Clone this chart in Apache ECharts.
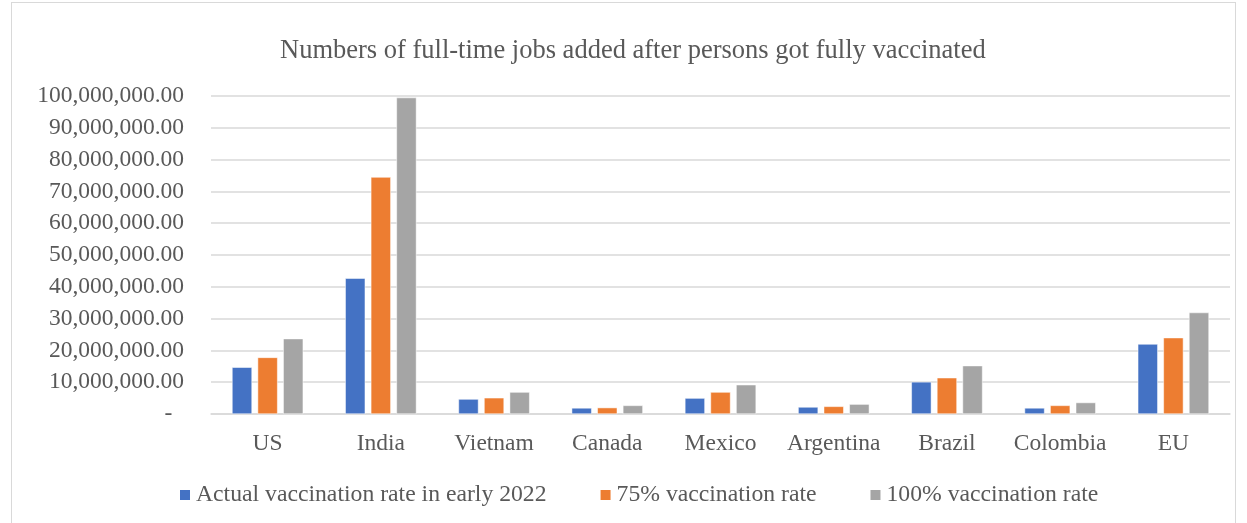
<!DOCTYPE html>
<html>
<head>
<meta charset="utf-8">
<script src="https://cdn.jsdelivr.net/npm/echarts@6/dist/echarts.min.js"></script>
<style>
  html, body { margin: 0; padding: 0; background: #fff; }
  #frame {
    position: absolute; left: 11px; top: 2px; width: 1225px; height: 530px;
    border: 1px solid #d9d9d9; box-sizing: border-box;
  }
  #chart { position: absolute; left: 0; top: 0; width: 1247px; height: 523px; }
</style>
</head>
<body>
<div id="frame"></div>
<div id="chart"></div>
<script>
  // countries on the x axis
  const countries = ['US', 'India', 'Vietnam', 'Canada', 'Mexico', 'Argentina', 'Brazil', 'Colombia', 'EU'];
  const seriesNames = ['Actual vaccination rate in early 2022', '75% vaccination rate', '100% vaccination rate'];
  // full-time jobs added
  const actualRate = [14700000, 42700000, 4700000, 1900000, 5000000, 2200000, 10100000, 1900000, 22000000];
  const rate75 = [17800000, 74500000, 5100000, 2000000, 6900000, 2400000, 11400000, 2700000, 24000000];
  const rate100 = [23700000, 99500000, 6900000, 2700000, 9200000, 3100000, 15200000, 3600000, 31900000];
  const yTicks = [0, 10000000, 20000000, 30000000, 40000000, 50000000, 60000000, 70000000, 80000000, 90000000, 100000000];

  const colors = ['#4472C4', '#ED7D31', '#A5A5A5'];
  const font = '"Liberation Serif", "Times New Roman", serif';
  const txt = '#595959';

  function fmt(v) {
    if (v === 0) return '-  ';
    return v.toLocaleString('en-US', { minimumFractionDigits: 2, maximumFractionDigits: 2 });
  }

  const chart = echarts.init(document.getElementById('chart'));
  const dataSets = [actualRate, rate75, rate100];
  chart.setOption({
    animation: false,
    color: colors,
    title: {
      text: 'Numbers of full-time jobs added after persons got fully vaccinated',
      left: 275,
      top: 33,
      textStyle: { fontFamily: font, fontSize: 26.5, fontWeight: 'normal', color: txt }
    },
    legend: {
      data: seriesNames,
      bottom: 11,
      left: 173,
      itemWidth: 12,
      itemHeight: 12,
      itemGap: 52,
      icon: 'rect',
      textStyle: { fontFamily: font, fontSize: 23.7, color: txt }
    },
    grid: { left: 211, right: 17, top: 96, bottom: 109, containLabel: false },
    xAxis: {
      type: 'category',
      data: countries,
      axisLine: { lineStyle: { color: '#d9d9d9', width: 1.5 } },
      axisTick: { show: false },
      axisLabel: { fontFamily: font, fontSize: 23.5, color: txt, margin: 18, interval: 0 }
    },
    yAxis: {
      type: 'value',
      min: yTicks[0],
      max: yTicks[yTicks.length - 1],
      interval: yTicks[1] - yTicks[0],
      axisLine: { show: false },
      axisTick: { show: false },
      splitLine: { lineStyle: { color: '#d9d9d9', width: 1.5 } },
      axisLabel: { fontFamily: font, fontSize: 23.5, color: txt, margin: 27, formatter: fmt }
    },
    series: seriesNames.map((name, i) => ({
      name: name,
      type: 'bar',
      data: dataSets[i],
      barWidth: 20,
      barGap: '28%',
      itemStyle: { borderColor: '#fff', borderWidth: 0.5 }
    }))
  });
</script>
</body>
</html>
